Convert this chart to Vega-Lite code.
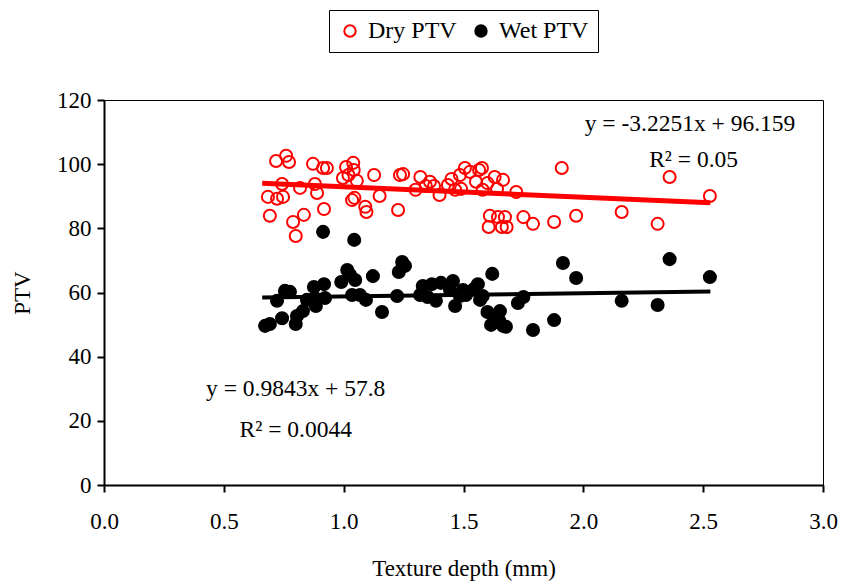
{
  "$schema": "https://vega.github.io/schema/vega-lite/v6.json",
  "width": 719,
  "height": 385,
  "autosize": "none",
  "padding": {"left": 104, "top": 100, "right": 19, "bottom": 102},
  "background": "white",
  "config": {
    "view": {"stroke": "black", "strokeWidth": 1},
    "font": "Liberation Serif",
    "axis": {
      "domainColor": "black", "domainWidth": 2, "tickColor": "black", "tickWidth": 2, "tickSize": 7,
      "grid": false, "labelFont": "Liberation Serif", "labelFontSize": 23, "labelColor": "black",
      "titleFont": "Liberation Serif", "titleFontSize": 23, "titleFontWeight": "normal", "titleColor": "black"
    },
    "legend": {
      "labelFont": "Liberation Serif", "labelFontSize": 24, "labelColor": "black"
    }
  },
  "datasets": {
    "pts": [
      {"s": "Dry PTV", "x": 0.684, "y": 89.8}, {"s": "Dry PTV", "x": 0.692, "y": 83.9}, {"s": "Dry PTV", "x": 0.718, "y": 101},
      {"s": "Dry PTV", "x": 0.722, "y": 89.2}, {"s": "Dry PTV", "x": 0.743, "y": 93.8}, {"s": "Dry PTV", "x": 0.747, "y": 89.8},
      {"s": "Dry PTV", "x": 0.76, "y": 102.6}, {"s": "Dry PTV", "x": 0.772, "y": 100.7}, {"s": "Dry PTV", "x": 0.789, "y": 82},
      {"s": "Dry PTV", "x": 0.8, "y": 77.6}, {"s": "Dry PTV", "x": 0.818, "y": 92.6}, {"s": "Dry PTV", "x": 0.834, "y": 84.2},
      {"s": "Dry PTV", "x": 0.872, "y": 100.1}, {"s": "Dry PTV", "x": 0.88, "y": 93.8}, {"s": "Dry PTV", "x": 0.889, "y": 91},
      {"s": "Dry PTV", "x": 0.918, "y": 86}, {"s": "Dry PTV", "x": 0.914, "y": 98.8}, {"s": "Dry PTV", "x": 0.93, "y": 98.8},
      {"s": "Dry PTV", "x": 0.997, "y": 95.7}, {"s": "Dry PTV", "x": 1.01, "y": 99.1}, {"s": "Dry PTV", "x": 1.02, "y": 96.6},
      {"s": "Dry PTV", "x": 1.035, "y": 88.8}, {"s": "Dry PTV", "x": 1.04, "y": 100.4}, {"s": "Dry PTV", "x": 1.042, "y": 98.2},
      {"s": "Dry PTV", "x": 1.055, "y": 94.8}, {"s": "Dry PTV", "x": 1.045, "y": 89.5}, {"s": "Dry PTV", "x": 1.09, "y": 86.7},
      {"s": "Dry PTV", "x": 1.095, "y": 85.1}, {"s": "Dry PTV", "x": 1.127, "y": 96.6}, {"s": "Dry PTV", "x": 1.15, "y": 90.1},
      {"s": "Dry PTV", "x": 1.227, "y": 85.7}, {"s": "Dry PTV", "x": 1.235, "y": 96.6}, {"s": "Dry PTV", "x": 1.248, "y": 96.9},
      {"s": "Dry PTV", "x": 1.3, "y": 92}, {"s": "Dry PTV", "x": 1.32, "y": 96}, {"s": "Dry PTV", "x": 1.343, "y": 93.2},
      {"s": "Dry PTV", "x": 1.36, "y": 94.5}, {"s": "Dry PTV", "x": 1.377, "y": 93.2}, {"s": "Dry PTV", "x": 1.4, "y": 90.4},
      {"s": "Dry PTV", "x": 1.435, "y": 93.5}, {"s": "Dry PTV", "x": 1.45, "y": 95.4}, {"s": "Dry PTV", "x": 1.465, "y": 92},
      {"s": "Dry PTV", "x": 1.485, "y": 96.6}, {"s": "Dry PTV", "x": 1.49, "y": 92.3}, {"s": "Dry PTV", "x": 1.506, "y": 98.8},
      {"s": "Dry PTV", "x": 1.527, "y": 97.6}, {"s": "Dry PTV", "x": 1.552, "y": 94.5}, {"s": "Dry PTV", "x": 1.565, "y": 98.2},
      {"s": "Dry PTV", "x": 1.577, "y": 98.8}, {"s": "Dry PTV", "x": 1.6, "y": 94.1}, {"s": "Dry PTV", "x": 1.58, "y": 92},
      {"s": "Dry PTV", "x": 1.605, "y": 80.4}, {"s": "Dry PTV", "x": 1.61, "y": 83.9}, {"s": "Dry PTV", "x": 1.63, "y": 96},
      {"s": "Dry PTV", "x": 1.64, "y": 92.3}, {"s": "Dry PTV", "x": 1.644, "y": 83.5}, {"s": "Dry PTV", "x": 1.66, "y": 80.4},
      {"s": "Dry PTV", "x": 1.673, "y": 83.5}, {"s": "Dry PTV", "x": 1.68, "y": 80.4}, {"s": "Dry PTV", "x": 1.665, "y": 95.1},
      {"s": "Dry PTV", "x": 1.72, "y": 91.3}, {"s": "Dry PTV", "x": 1.75, "y": 83.5}, {"s": "Dry PTV", "x": 1.79, "y": 81.4},
      {"s": "Dry PTV", "x": 1.878, "y": 82}, {"s": "Dry PTV", "x": 1.91, "y": 98.8}, {"s": "Dry PTV", "x": 1.97, "y": 83.9},
      {"s": "Dry PTV", "x": 2.16, "y": 85.1}, {"s": "Dry PTV", "x": 2.31, "y": 81.4}, {"s": "Dry PTV", "x": 2.36, "y": 96},
      {"s": "Dry PTV", "x": 2.528, "y": 90.1},
      {"s": "Wet PTV", "x": 0.672, "y": 49.6}, {"s": "Wet PTV", "x": 0.692, "y": 50.2}, {"s": "Wet PTV", "x": 0.722, "y": 57.4},
      {"s": "Wet PTV", "x": 0.743, "y": 52}, {"s": "Wet PTV", "x": 0.755, "y": 60.5}, {"s": "Wet PTV", "x": 0.776, "y": 60.2},
      {"s": "Wet PTV", "x": 0.8, "y": 50.2}, {"s": "Wet PTV", "x": 0.805, "y": 52.7}, {"s": "Wet PTV", "x": 0.83, "y": 54.2},
      {"s": "Wet PTV", "x": 0.847, "y": 57.7}, {"s": "Wet PTV", "x": 0.876, "y": 61.7}, {"s": "Wet PTV", "x": 0.88, "y": 58.3},
      {"s": "Wet PTV", "x": 0.884, "y": 55.8}, {"s": "Wet PTV", "x": 0.918, "y": 62.6}, {"s": "Wet PTV", "x": 0.922, "y": 58.3},
      {"s": "Wet PTV", "x": 0.914, "y": 78.9}, {"s": "Wet PTV", "x": 0.99, "y": 63.3}, {"s": "Wet PTV", "x": 1.015, "y": 67},
      {"s": "Wet PTV", "x": 1.027, "y": 65.5}, {"s": "Wet PTV", "x": 1.035, "y": 59.2}, {"s": "Wet PTV", "x": 1.044, "y": 76.4},
      {"s": "Wet PTV", "x": 1.048, "y": 63.9}, {"s": "Wet PTV", "x": 1.068, "y": 59.2}, {"s": "Wet PTV", "x": 1.093, "y": 57.7},
      {"s": "Wet PTV", "x": 1.122, "y": 65.1}, {"s": "Wet PTV", "x": 1.16, "y": 53.9}, {"s": "Wet PTV", "x": 1.223, "y": 58.9},
      {"s": "Wet PTV", "x": 1.23, "y": 66.4}, {"s": "Wet PTV", "x": 1.244, "y": 69.5}, {"s": "Wet PTV", "x": 1.256, "y": 68.3},
      {"s": "Wet PTV", "x": 1.319, "y": 59.2}, {"s": "Wet PTV", "x": 1.33, "y": 62}, {"s": "Wet PTV", "x": 1.35, "y": 58.6},
      {"s": "Wet PTV", "x": 1.368, "y": 62.6}, {"s": "Wet PTV", "x": 1.385, "y": 57.4}, {"s": "Wet PTV", "x": 1.406, "y": 63},
      {"s": "Wet PTV", "x": 1.444, "y": 60.8}, {"s": "Wet PTV", "x": 1.456, "y": 63.6}, {"s": "Wet PTV", "x": 1.465, "y": 55.8},
      {"s": "Wet PTV", "x": 1.485, "y": 58.9}, {"s": "Wet PTV", "x": 1.498, "y": 60.8}, {"s": "Wet PTV", "x": 1.51, "y": 59.2},
      {"s": "Wet PTV", "x": 1.544, "y": 61.1}, {"s": "Wet PTV", "x": 1.56, "y": 62.6}, {"s": "Wet PTV", "x": 1.569, "y": 57.7},
      {"s": "Wet PTV", "x": 1.58, "y": 58.9}, {"s": "Wet PTV", "x": 1.6, "y": 53.9}, {"s": "Wet PTV", "x": 1.615, "y": 49.9},
      {"s": "Wet PTV", "x": 1.62, "y": 65.8}, {"s": "Wet PTV", "x": 1.63, "y": 52.7}, {"s": "Wet PTV", "x": 1.648, "y": 51.4},
      {"s": "Wet PTV", "x": 1.652, "y": 54.2}, {"s": "Wet PTV", "x": 1.665, "y": 49.6}, {"s": "Wet PTV", "x": 1.677, "y": 49.3},
      {"s": "Wet PTV", "x": 1.727, "y": 56.7}, {"s": "Wet PTV", "x": 1.75, "y": 58.6}, {"s": "Wet PTV", "x": 1.79, "y": 48.3},
      {"s": "Wet PTV", "x": 1.878, "y": 51.4}, {"s": "Wet PTV", "x": 1.915, "y": 69.2}, {"s": "Wet PTV", "x": 1.97, "y": 64.5},
      {"s": "Wet PTV", "x": 2.16, "y": 57.4}, {"s": "Wet PTV", "x": 2.31, "y": 56.1}, {"s": "Wet PTV", "x": 2.36, "y": 70.4},
      {"s": "Wet PTV", "x": 2.528, "y": 64.8}
    ],
    "trend": [
      {"s": "Dry PTV", "x": 0.66, "y": 94.03}, {"s": "Dry PTV", "x": 2.53, "y": 88.0},
      {"s": "Wet PTV", "x": 0.66, "y": 58.45}, {"s": "Wet PTV", "x": 2.53, "y": 60.29}
    ],
    "notes": [
      {"x": 2.445, "y": 112.6, "t": "y = -3.2251x + 96.159"},
      {"x": 2.46, "y": 101.2, "t": "R² = 0.05"},
      {"x": 0.80, "y": 29.8, "t": "y = 0.9843x + 57.8"},
      {"x": 0.80, "y": 17.0, "t": "R² = 0.0044"}
    ]
  },
  "layer": [
    {
      "data": {"name": "trend"},
      "transform": [{"filter": "datum.s === 'Dry PTV'"}],
      "mark": {"type": "line", "strokeCap": "butt", "color": "#ff0000", "strokeWidth": 5},
      "encoding": {
        "x": {"field": "x", "type": "quantitative"},
        "y": {"field": "y", "type": "quantitative"}
      }
    },
    {
      "data": {"name": "trend"},
      "transform": [{"filter": "datum.s === 'Wet PTV'"}],
      "mark": {"type": "line", "strokeCap": "butt", "color": "#000000", "strokeWidth": 4},
      "encoding": {
        "x": {"field": "x", "type": "quantitative"},
        "y": {"field": "y", "type": "quantitative"}
      }
    },
    {
      "data": {"name": "pts"},
      "mark": {"type": "point", "shape": "circle", "strokeWidth": 2, "opacity": 1, "size": 145},
      "encoding": {
        "x": {
          "field": "x", "type": "quantitative", "title": "Texture depth (mm)",
          "scale": {"domain": [0, 3], "nice": false, "zero": false},
          "axis": {"values": [0, 0.5, 1, 1.5, 2, 2.5, 3], "format": ".1f", "labelPadding": 18, "titlePadding": 24, "labelFlush": false}
        },
        "y": {
          "field": "y", "type": "quantitative", "title": "PTV",
          "scale": {"domain": [0, 120], "nice": false},
          "axis": {"values": [0, 20, 40, 60, 80, 100, 120], "labelPadding": 6, "titlePadding": 22, "labelFlush": false}
        },
        "stroke": {"field": "s", "type": "nominal", "scale": {"domain": ["Dry PTV", "Wet PTV"], "range": ["#ff0000", "#000000"]},
          "legend": {"title": null, "orient": "none", "legendX": 225, "legendY": -90, "direction": "horizontal",
            "fillColor": "white", "strokeColor": "black", "padding": 9,
            "symbolSize": 130, "symbolStrokeWidth": 2, "columnPadding": 12, "labelOffset": 6}},
        "fill": {"field": "s", "type": "nominal", "scale": {"domain": ["Dry PTV", "Wet PTV"], "range": ["transparent", "#000000"]},
          "legend": {"title": null, "orient": "none", "legendX": 225, "legendY": -90, "direction": "horizontal",
            "fillColor": "white", "strokeColor": "black", "padding": 9,
            "symbolSize": 130, "symbolStrokeWidth": 2, "columnPadding": 12, "labelOffset": 6}}
      }
    },
    {
      "data": {"name": "notes"},
      "mark": {"type": "text", "font": "Liberation Serif", "fontSize": 23.5, "color": "black", "align": "center", "baseline": "middle"},
      "encoding": {
        "x": {"field": "x", "type": "quantitative"},
        "y": {"field": "y", "type": "quantitative"},
        "text": {"field": "t"}
      }
    }
  ]
}
